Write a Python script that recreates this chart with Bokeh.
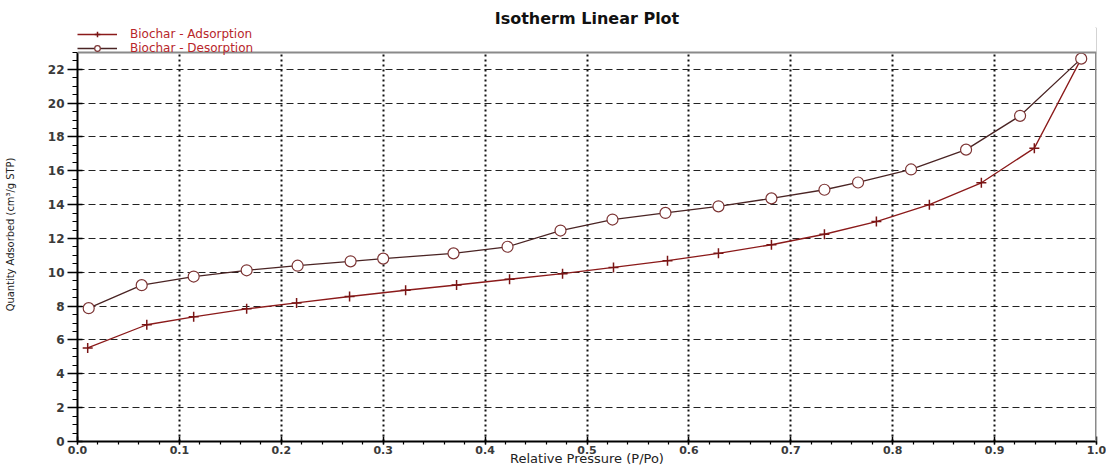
from bokeh.plotting import figure
from bokeh.models import (Range1d, SingleIntervalTicker, NumeralTickFormatter, Legend,
                          LegendItem, BoxAnnotation, Span)
from bokeh.embed import file_html
from bokeh.resources import INLINE

# ---- data ----
ads_x = [0.010, 0.068, 0.114, 0.166, 0.215, 0.267, 0.322, 0.372, 0.424, 0.476,
         0.526, 0.579, 0.629, 0.681, 0.733, 0.784, 0.836, 0.887, 0.939, 0.985]
ads_y = [5.53, 6.90, 7.37, 7.84, 8.19, 8.57, 8.94, 9.25, 9.59, 9.92,
         10.29, 10.69, 11.12, 11.63, 12.25, 13.00, 14.00, 15.29, 17.34, 22.63]

des_x = [0.011, 0.063, 0.114, 0.166, 0.216, 0.268, 0.300, 0.369, 0.422, 0.474,
         0.525, 0.577, 0.629, 0.681, 0.733, 0.766, 0.818, 0.872, 0.925, 0.985]
des_y = [7.88, 9.24, 9.75, 10.12, 10.39, 10.65, 10.81, 11.12, 11.51, 12.47,
         13.12, 13.51, 13.90, 14.37, 14.88, 15.31, 16.08, 17.25, 19.25, 22.63]

series_names = ["Biochar - Adsorption", "Biochar - Desorption"]
title_text = "Isotherm Linear Plot"
x_title = "Relative Pressure (P/Po)"
y_title = "Quantity Adsorbed (cm\u00b3/g STP)"

X_MAX, Y_MAX = 1.0, 23

# ---- layout (pixels) ----
W, Hc = 1106, 468
TOP, BOTTOM, LEFT, RIGHT = 27, 25, 76, 10
LEGEND_ROOM = 25                      # px above y=Y_MAX reserved for the legend
FH = Hc - TOP - BOTTOM
y_end = Y_MAX * FH / (FH - LEGEND_ROOM)

p = figure(width=W, height=Hc, output_backend="svg", toolbar_location=None,
           x_range=Range1d(0, X_MAX), y_range=Range1d(0, y_end),
           min_border_left=LEFT, min_border_right=RIGHT,
           min_border_top=TOP, min_border_bottom=BOTTOM,
           title=title_text)
p.background_fill_color = "white"
p.border_fill_color = "white"
p.outline_line_color = None

p.title.align = "center"
p.title.text_font = "DejaVu Sans"
p.title.text_font_size = "16px"
p.title.text_font_style = "bold"
p.title.text_color = "#111111"
p.title.standoff = 0

# axes
p.xaxis.ticker = SingleIntervalTicker(interval=0.1, num_minor_ticks=5)
p.xaxis.formatter = NumeralTickFormatter(format="0.0")
p.yaxis.ticker = SingleIntervalTicker(interval=2, num_minor_ticks=4)
p.yaxis.bounds = (0, Y_MAX)

for ax in (p.xaxis[0], p.yaxis[0]):
    ax.axis_line_color = "black"
    ax.axis_line_width = 2
    ax.major_tick_line_color = "black"
    ax.major_tick_line_width = 1.5
    ax.minor_tick_line_color = "black"
    ax.minor_tick_line_width = 1.2
    ax.major_label_text_font = "DejaVu Sans"
    ax.major_label_text_font_style = "bold"
    ax.major_label_text_color = "#3a3a3a"
    ax.axis_label_text_color = "#222222"
    ax.axis_label_text_font_style = "normal"

p.xaxis.major_label_text_font_size = "11px"
p.xaxis.major_tick_out = 3
p.xaxis.major_tick_in = 5
p.xaxis.minor_tick_out = 3
p.xaxis.minor_tick_in = 0
p.xaxis.major_label_standoff = 1
p.xaxis.axis_label = x_title
p.xaxis.axis_label_text_font = "DejaVu Sans"
p.xaxis.axis_label_text_font_size = "13px"
p.xaxis.axis_label_standoff = -6

p.yaxis.major_label_text_font_size = "12px"
p.yaxis.major_tick_out = 10
p.yaxis.major_tick_in = 5
p.yaxis.minor_tick_out = 5
p.yaxis.minor_tick_in = 0
p.yaxis.major_label_standoff = 3
p.yaxis.axis_label = y_title
p.yaxis.axis_label_text_font = "Liberation Sans Narrow, DejaVu Sans Condensed, sans-serif"
p.yaxis.axis_label_text_font_size = "11px"
p.yaxis.axis_label_standoff = 28

# grids (no grid line on the right border itself)
p.xgrid.grid_line_color = "#111111"
p.xgrid.grid_line_width = 2
p.xgrid.grid_line_dash = "2 3"
p.xgrid.bounds = (0, 0.95)
p.ygrid.grid_line_color = "#222222"
p.ygrid.grid_line_width = 1.2
p.ygrid.grid_line_dash = "7 4"

# series
ads_line = p.line(ads_x, ads_y, line_color="#8b1a1a", line_width=1.3)
ads_pts = p.scatter(ads_x, ads_y, marker="cross", size=10,
                    line_color="#7a1515", line_width=1.5)
des_line = p.line(des_x, des_y, line_color="#4a2424", line_width=1.3)
des_pts = p.scatter(des_x, des_y, marker="circle", size=11,
                    line_color="#7d3535", fill_color="white", line_width=1.2)

# grey right border of the plot area
p.add_layout(Span(location=X_MAX, dimension="height", line_color="#8a8a8a", line_width=3))

# legend strip above the plot area (covers grid / border above Y_MAX)
p.add_layout(BoxAnnotation(bottom=Y_MAX, fill_color="white", fill_alpha=1,
                           line_alpha=0))
p.add_layout(Span(location=Y_MAX, dimension="width", line_color="#8a8a8a", line_width=2))

legend = Legend(items=[LegendItem(label=series_names[0], renderers=[ads_line, ads_pts]),
                       LegendItem(label=series_names[1], renderers=[des_line, des_pts])],
                location="top_left", orientation="vertical",
                border_line_color=None, background_fill_alpha=0,
                padding=0, margin=0, spacing=0,
                glyph_width=40, glyph_height=14, label_height=10,
                label_standoff=13,
                label_text_font="DejaVu Sans", label_text_font_size="12px",
                label_text_color="#b8262b")
p.add_layout(legend)

open("out.html", "w").write(file_html(p, INLINE))
